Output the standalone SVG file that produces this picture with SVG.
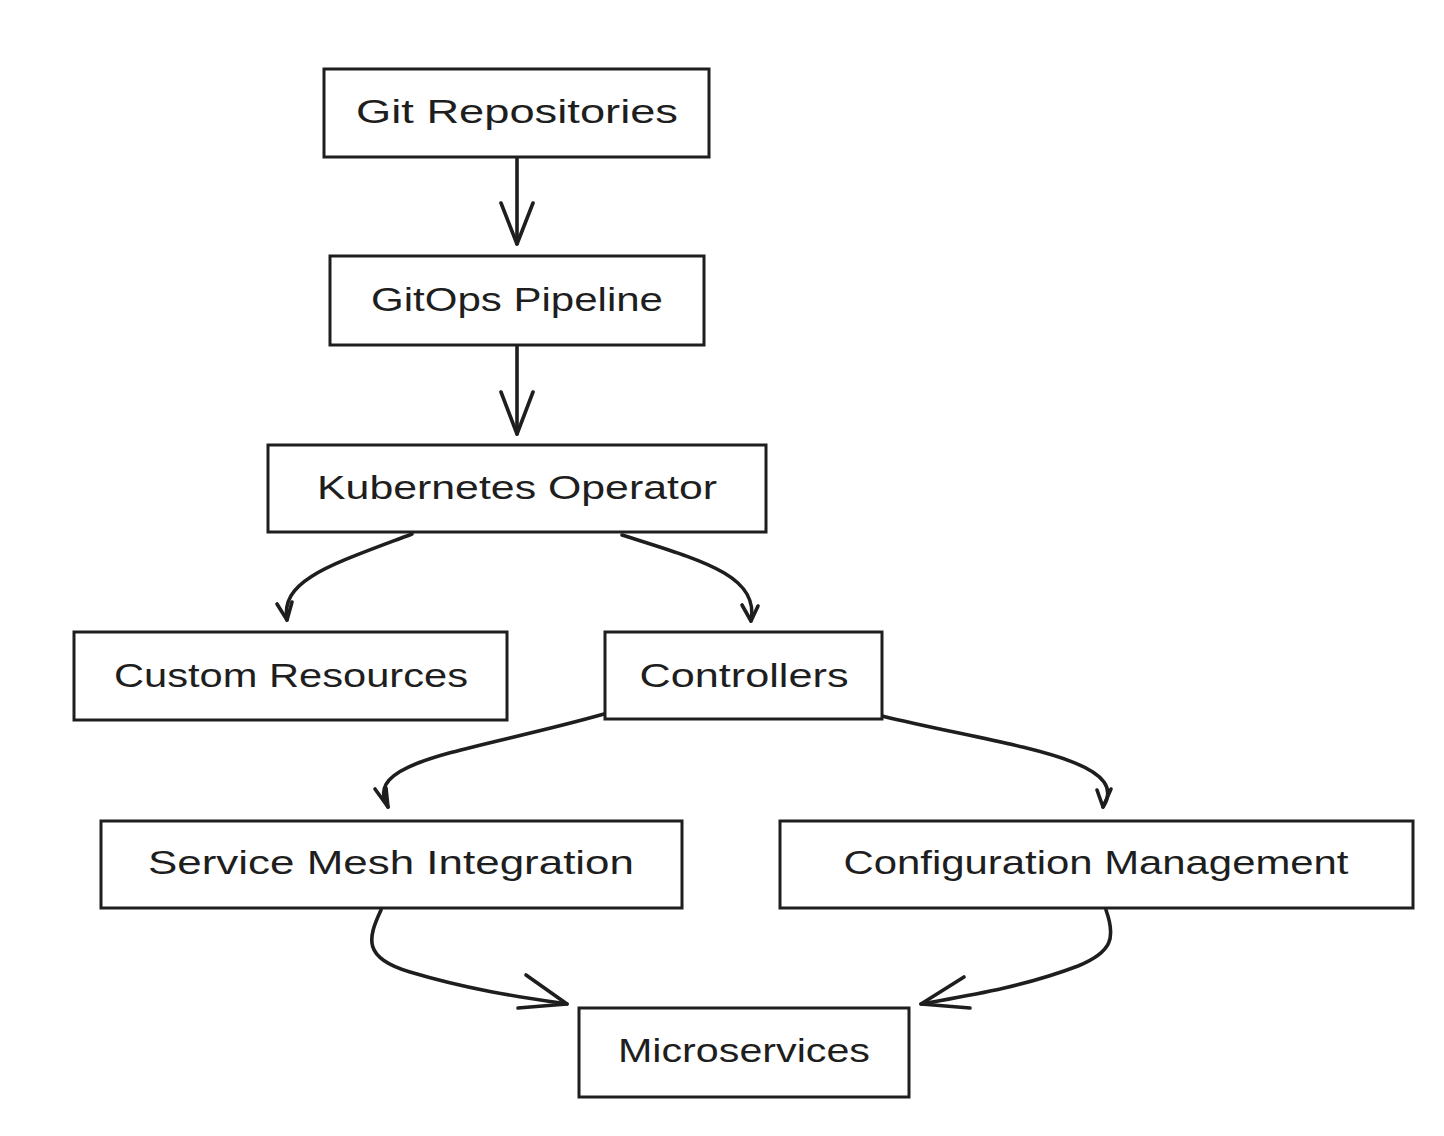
<svg xmlns="http://www.w3.org/2000/svg" width="1444" height="1136" viewBox="0 0 1444 1136">
<defs>
<style>
.box{fill:#ffffff;stroke:#1e1e1e;stroke-width:3}
.lbl{font-family:"Liberation Sans","DejaVu Sans",sans-serif;font-size:34px;fill:#1e1e1e;text-anchor:middle;dominant-baseline:central}
.edge{fill:none;stroke:#1e1e1e;stroke-width:3.6;stroke-linecap:round;stroke-linejoin:round}
</style>
</defs>
<rect width="1444" height="1136" fill="#ffffff"/>
<g id="connectors">
<path class="edge" d="M517,158 L517,244"/>
<path class="edge" d="M501,203 L517,244 L533,203"/>
<path class="edge" d="M517,346 L517,434"/>
<path class="edge" d="M501,392 L517,434 L533,392"/>
<path class="edge" d="M412,534 C330,565 280,580 287,620"/>
<path class="edge" d="M277,604 L287,620 L292,602"/>
<path class="edge" d="M622,535 C700,560 760,575 751,621"/>
<path class="edge" d="M742,605 L751,621 L758,606"/>
<path class="edge" d="M604,714 C470,752 360,760 388,807"/>
<path class="edge" d="M375,789 L388,807 L386,788"/>
<path class="edge" d="M882,716 C1000,745 1135,758 1103,807"/>
<path class="edge" d="M1111,789 L1103,807 L1097,790"/>
<path class="edge" d="M381,910 C368,938 362,958 410,972 C470,990 520,997 567,1004"/>
<path class="edge" d="M526,975 L567,1004 L518,1008"/>
<path class="edge" d="M1106,910 C1116,938 1112,952 1078,966 C1020,988 965,996 921,1004"/>
<path class="edge" d="M964,977 L921,1004 L970,1008"/>
</g>
<g id="node-git">
<rect class="box" x="324" y="69" width="385" height="88"/>
<text class="lbl" x="517" y="111" textLength="322" lengthAdjust="spacingAndGlyphs">Git Repositories</text>
</g>
<g id="node-gitops">
<rect class="box" x="330" y="256" width="374" height="89"/>
<text class="lbl" x="517" y="299" textLength="292" lengthAdjust="spacingAndGlyphs">GitOps Pipeline</text>
</g>
<g id="node-k8s">
<rect class="box" x="268" y="445" width="498" height="87"/>
<text class="lbl" x="517" y="487" textLength="400" lengthAdjust="spacingAndGlyphs">Kubernetes Operator</text>
</g>
<g id="node-custom">
<rect class="box" x="74" y="632" width="433" height="88"/>
<text class="lbl" x="291" y="675" textLength="354" lengthAdjust="spacingAndGlyphs">Custom Resources</text>
</g>
<g id="node-controllers">
<rect class="box" x="605" y="632" width="277" height="87"/>
<text class="lbl" x="744" y="675" textLength="209" lengthAdjust="spacingAndGlyphs">Controllers</text>
</g>
<g id="node-mesh">
<rect class="box" x="101" y="821" width="581" height="87"/>
<text class="lbl" x="391" y="862" textLength="486" lengthAdjust="spacingAndGlyphs">Service Mesh Integration</text>
</g>
<g id="node-config">
<rect class="box" x="780" y="821" width="633" height="87"/>
<text class="lbl" x="1096" y="862" textLength="505" lengthAdjust="spacingAndGlyphs">Configuration Management</text>
</g>
<g id="node-micro">
<rect class="box" x="579" y="1008" width="330" height="89"/>
<text class="lbl" x="744" y="1050" textLength="252" lengthAdjust="spacingAndGlyphs">Microservices</text>
</g>
</svg>
